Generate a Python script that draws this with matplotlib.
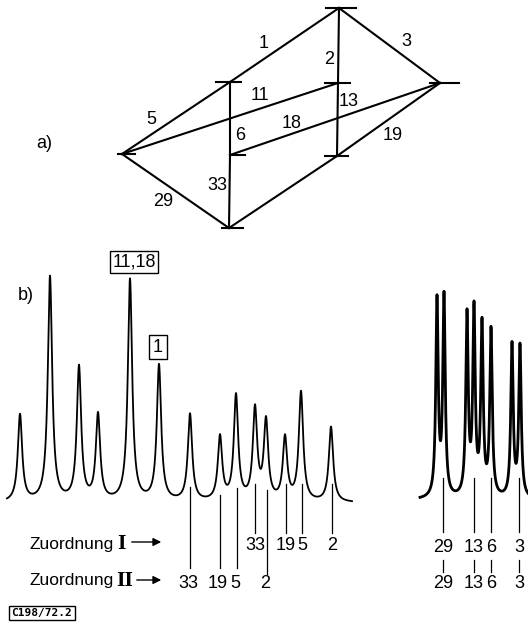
import matplotlib.pyplot as plt
import numpy as np
from matplotlib import font_manager

names = {f.name for f in font_manager.fontManager.ttflist}
narrow = [n for n in ["Liberation Sans Narrow", "DejaVu Sans Condensed", "Liberation Sans"] if n in names]
plt.rcParams['font.family'] = narrow[:1] + ['DejaVu Sans']
FS = 13

# ---- a) graph: nodes (x, y in picture units) and edges
node_names = ["T", "R", "L", "A", "B", "Bo", "C", "D"]
node_x = [339, 440, 122, 230, 230, 229, 338, 337]
node_y = [8, 83, 154, 82, 155, 228, 83, 156]
tick_left = [326, 430, 118, 216, 231, 222, 325, 325]
tick_right = [356, 459, 135, 241, 245, 243, 350, 348]
edges = [("A", "T"), ("T", "R"), ("T", "C"), ("C", "D"), ("L", "A"), ("L", "C"),
         ("A", "B"), ("B", "R"), ("B", "Bo"), ("L", "Bo"), ("Bo", "D"), ("D", "R")]
edge_labels = ["1", "3", "2", "13", "5", "11", "6", "18", "33", "29", "19"]
edge_label_x = [264, 406, 329, 349, 151, 260, 240, 292, 217, 163, 393]
edge_label_y = [43, 42, 60, 101, 119, 96, 135, 124, 186, 201, 135]

# ---- b) spectra: peak positions and heights
left_pos = [20, 50, 79, 98, 130, 159, 190, 220, 236, 255, 266, 285, 301, 331]
left_height = [87, 225, 134, 86, 222, 136, 87, 64, 105, 91, 79, 63, 109, 75]
left_base = 503
right_pos = [437, 444, 467, 474, 482, 491, 512, 520]
right_height = [196, 199, 180, 184, 170, 166, 152, 151]
right_base = 500

# assignment labels
asg1_x = [255, 286, 302, 332]
asg1_lab = ["33", "19", "5", "2"]
asg2_x = [190, 220, 237, 267]
asg2_lab = ["33", "19", "5", "2"]
asg2_top = [487, 495, 488, 490]
right_x = [443, 474, 491, 519]
right_lab = ["29", "13", "6", "3"]

fig = plt.figure(figsize=(5.28, 6.23), dpi=100)
ax = fig.add_axes([0, 0, 1, 1])
ax.set_xlim(0, 528)
ax.set_ylim(623, 0)
ax.axis("off")

idx = {n: i for i, n in enumerate(node_names)}
for a, b in edges:
    ax.plot([node_x[idx[a]], node_x[idx[b]]], [node_y[idx[a]], node_y[idx[b]]],
            color="black", lw=1.5)
for i in range(len(node_names)):
    ax.plot([tick_left[i], tick_right[i]], [node_y[i], node_y[i]], color="black", lw=1.5)
for s, x, y in zip(edge_labels, edge_label_x, edge_label_y):
    ax.text(x, y, s, fontsize=FS, ha="center", va="center")
ax.text(44, 143, "a)", fontsize=FS, ha="center", va="center")


def spectrum(x, pos, height, base, g):
    y = np.full_like(x, float(base))
    for p, h in zip(pos, height):
        y -= h * g**2 / ((x - p)**2 + g**2)
    return y


xl = np.linspace(7, 352, 3000)
ax.plot(xl, spectrum(xl, left_pos, left_height, left_base, 2.6), color="black", lw=1.3)
xr = np.linspace(420, 528, 2000)
ax.plot(xr, spectrum(xr, right_pos, right_height, right_base, 1.45), color="black", lw=2.0)

ax.text(26, 296, "b)", fontsize=FS, ha="center", va="center")
ax.text(134, 262, "11,18", fontsize=FS, ha="center", va="center",
        bbox=dict(boxstyle="square,pad=0.15", fc="white", ec="black", lw=1))
ax.text(158, 347, "1", fontsize=FS, ha="center", va="center",
        bbox=dict(boxstyle="square,pad=0.2", fc="white", ec="black", lw=1))

# assignment lines and labels
for x, s in zip(asg1_x, asg1_lab):
    ax.plot([x, x], [484, 533], color="black", lw=0.9)
    ax.text(x, 546, s, fontsize=FS, ha="center", va="center")
for x, s, t in zip(asg2_x, asg2_lab, asg2_top):
    ax.plot([x, x], [t, 568 if s != "2" else 574], color="black", lw=0.9)
    ax.text(x - 2, 583, s, fontsize=FS, ha="center", va="center")
for x, s in zip(right_x, right_lab):
    ax.plot([x, x], [478, 532], color="black", lw=0.9)
    ax.plot([x, x], [560, 572], color="black", lw=0.9)
    ax.text(x, 547, s, fontsize=FS, ha="center", va="center")
    ax.text(x, 584, s, fontsize=FS, ha="center", va="center")

ax.text(29, 544, "Zuordnung", fontsize=12.5, ha="left", va="center")
ax.text(117, 544, "I", fontsize=FS, ha="left", va="center", family="DejaVu Serif", weight="bold")
ax.text(29, 581, "Zuordnung", fontsize=12.5, ha="left", va="center")
ax.text(116, 581, "II", fontsize=FS, ha="left", va="center", family="DejaVu Serif", weight="bold")
ax.annotate("", xy=(164, 542), xytext=(129, 542),
            arrowprops=dict(arrowstyle="-|>", color="black", lw=1, mutation_scale=12))
ax.annotate("", xy=(164, 580), xytext=(134, 580),
            arrowprops=dict(arrowstyle="-|>", color="black", lw=1, mutation_scale=12))

ax.text(42, 613, "C198/72.2", fontsize=8, ha="center", va="center", family="DejaVu Sans Mono",
        weight="bold", bbox=dict(boxstyle="square,pad=0.2", fc="white", ec="black", lw=1))

fig.savefig("out.png", dpi=100)
